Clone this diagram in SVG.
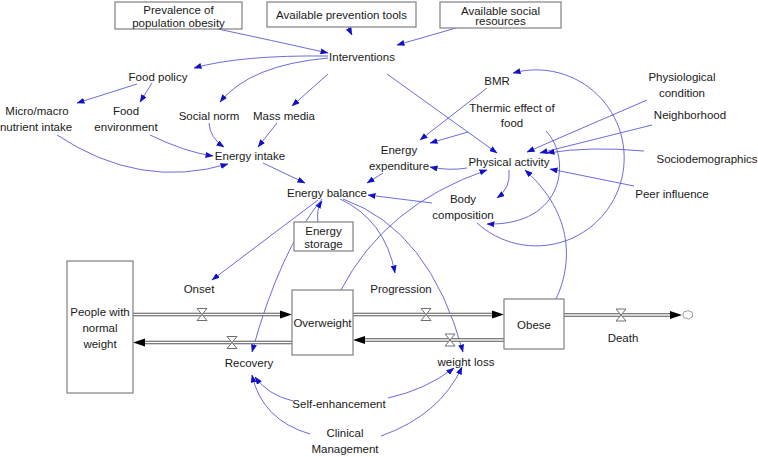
<svg xmlns="http://www.w3.org/2000/svg" width="758" height="457" viewBox="0 0 758 457">
<defs>
<marker id="ah" markerWidth="8" markerHeight="6" refX="7.5" refY="3" orient="auto" markerUnits="userSpaceOnUse">
<path d="M0,0 L8,3 L0,6 Z" fill="#1010c8"/>
</marker>
<style>
text{font-family:"Liberation Sans",Arial,sans-serif;font-size:11.5px;fill:#1a1a1a;text-anchor:middle}
.box{fill:#fff;stroke:#808080;stroke-width:1.2}
.c{fill:none;stroke:#5a5ad8;stroke-width:0.9;marker-end:url(#ah)}
.po{fill:none;stroke:#555;stroke-width:3.6}
.pi{fill:none;stroke:#fff;stroke-width:1.6}
.ar{fill:#000}
.v{fill:#fff;stroke:#606060;stroke-width:0.9}
</style>
</defs>
<rect width="758" height="457" fill="#fff"/>

<g id="connectors">
<path class="c" d="M218,29 Q270,40 328,53"/>
<path class="c" d="M348,27 L352,35"/>
<path class="c" d="M456,28 L397,45"/>
<path class="c" d="M328,56 Q240,55 194,68"/>
<path class="c" d="M328,58 Q250,65 220,102"/>
<path class="c" d="M328,74 L292,106"/>
<path class="c" d="M387,74 L497,153"/>
<path class="c" d="M137,84 L77,103"/>
<path class="c" d="M152,83 L140,102"/>
<path class="c" d="M57,135 Q140,190 228,164"/>
<path class="c" d="M150,135 Q185,152 213,156"/>
<path class="c" d="M209,123 Q210,138 224,147"/>
<path class="c" d="M277,123 L258,147"/>
<path class="c" d="M263,163 L305,183"/>
<path class="c" d="M487,88 L420,140"/>
<path class="c" d="M468,132 L430,143"/>
<path class="c" d="M383,173 L367,183"/>
<path class="c" d="M467,168 Q450,171 430,167"/>
<path class="c" d="M432,203 L368,195"/>
<path class="c" d="M509,170 Q511,188 497,198"/>
<path class="c" d="M341,290 Q385,205 487,170"/>
<path class="c" d="M556,299 C572,265 575,215 525,170"/>
<path class="c" d="M477,223 A88,88 0 1 0 513,73"/>
<path class="c" d="M546,131 C572,158 565,226 487,224"/>
<path class="c" d="M647,100 L527,152"/>
<path class="c" d="M652,125 L540,153"/>
<path class="c" d="M644,151 Q590,146 547,153"/>
<path class="c" d="M634,186 L550,169"/>
<path class="c" d="M318,222 Q316,210 322,201"/>
<path class="c" d="M318,200 L212,280"/>
<path class="c" d="M322,199 Q280,250 252,352"/>
<path class="c" d="M340,199 Q385,220 395,273"/>
<path class="c" d="M343,199 Q430,230 463,352"/>
<path class="c" d="M293,401 Q268,395 255,377"/>
<path class="c" d="M310,434 Q262,420 252,375"/>
<path class="c" d="M388,398 Q425,390 454,368"/>
<path class="c" d="M381,436 Q440,415 462,367"/>
</g>

<g id="flows">
<path class="po" d="M133,314.5 H282"/><path class="pi" d="M133,314.5 H282"/>
<polygon class="ar" points="280,310.5 292,314.5 280,318.5"/>
<path class="po" d="M292,342.5 H143"/><path class="pi" d="M292,342.5 H143"/>
<polygon class="ar" points="145,338.5 133,342.5 145,346.5"/>
<path class="po" d="M353,314.5 H494"/><path class="pi" d="M353,314.5 H494"/>
<polygon class="ar" points="492,310.5 504,314.5 492,318.5"/>
<path class="po" d="M504,340 H363"/><path class="pi" d="M504,340 H363"/>
<polygon class="ar" points="365,336 353,340 365,344"/>
<path class="po" d="M564,315 H672"/><path class="pi" d="M564,315 H672"/>
<polygon class="ar" points="670,311 682,315 670,319"/>
<path d="M683,315 q0,-4 3,-3.5 q2,-2 4,0 q3,0 2.5,3 q1,3 -2,3.5 q-2,2 -4,0 q-3,1 -3.5,-3 Z" fill="#fff" stroke="#808080" stroke-width="0.8"/>
<path class="v" d="M197,308.5 L207,308.5 L202,314.5 Z M202,314.5 L197,320.5 L207,320.5 Z"/>
<path class="v" d="M227,336.5 L237,336.5 L232,342.5 Z M232,342.5 L227,348.5 L237,348.5 Z"/>
<path class="v" d="M421,308.5 L431,308.5 L426,314.5 Z M426,314.5 L421,320.5 L431,320.5 Z"/>
<path class="v" d="M445,334 L455,334 L450,340 Z M450,340 L445,346 L455,346 Z"/>
<path class="v" d="M616,309 L626,309 L621,315 Z M621,315 L616,321 L626,321 Z"/>
</g>

<g id="prevalence"><rect class="box" x="115" y="2" width="127" height="27"/><text x="178.5" y="14">Prevalence of</text><text x="178.5" y="26.5">population obesity</text></g>
<g id="prevention"><rect class="box" x="267" y="2" width="149" height="25"/><text x="341.5" y="19">Available prevention tools</text></g>
<g id="social-resources"><rect class="box" x="440" y="2" width="121" height="26"/><text x="500.5" y="14.5">Available social</text><text x="500.5" y="25">resources</text></g>
<g id="interventions"><text x="362" y="61">Interventions</text></g>
<g id="food-policy"><text x="158" y="81">Food policy</text></g>
<g id="micro-macro"><text x="37" y="115">Micro/macro</text><text x="36" y="131">nutrient intake</text></g>
<g id="food-env"><text x="126" y="115">Food</text><text x="126" y="131">environment</text></g>
<g id="social-norm"><text x="209" y="120">Social norm</text></g>
<g id="mass-media"><text x="284" y="120">Mass media</text></g>
<g id="energy-intake"><text x="250" y="160">Energy intake</text></g>
<g id="energy-balance"><text x="327" y="197">Energy balance</text></g>
<g id="energy-storage"><rect class="box" x="294" y="222" width="59" height="29"/><text x="323.5" y="235">Energy</text><text x="323.5" y="248">storage</text></g>
<g id="energy-expenditure"><text x="399" y="154">Energy</text><text x="399" y="170">expenditure</text></g>
<g id="physical-activity"><text x="509" y="166">Physical activity</text></g>
<g id="bmr"><text x="497" y="85">BMR</text></g>
<g id="thermic"><text x="512" y="112">Thermic effect of</text><text x="512" y="127">food</text></g>
<g id="body-composition"><text x="463" y="203">Body</text><text x="463" y="219">composition</text></g>
<g id="physiological"><text x="682" y="81">Physiological</text><text x="682" y="97">condition</text></g>
<g id="neighborhood"><text x="690" y="119">Neighborhood</text></g>
<g id="sociodemographics"><text x="707" y="163">Sociodemographics</text></g>
<g id="peer"><text x="672" y="198">Peer influence</text></g>
<g id="normal-weight"><rect class="box" x="67" y="261" width="66" height="132"/><text x="100" y="316">People with</text><text x="100" y="332">normal</text><text x="100" y="348">weight</text></g>
<g id="overweight"><rect class="box" x="292" y="290" width="61" height="65"/><text x="322.5" y="327">Overweight</text></g>
<g id="obese"><rect class="box" x="504" y="299" width="60" height="50"/><text x="534" y="329">Obese</text></g>
<g id="onset"><text x="199" y="293">Onset</text></g>
<g id="recovery"><text x="249" y="367">Recovery</text></g>
<g id="progression"><text x="401" y="293">Progression</text></g>
<g id="weight-loss"><text x="466" y="366">weight loss</text></g>
<g id="death"><text x="623" y="342">Death</text></g>
<g id="self-enhancement"><text x="339" y="408">Self-enhancement</text></g>
<g id="clinical"><text x="345" y="437">Clinical</text><text x="345" y="453">Management</text></g>
</svg>
